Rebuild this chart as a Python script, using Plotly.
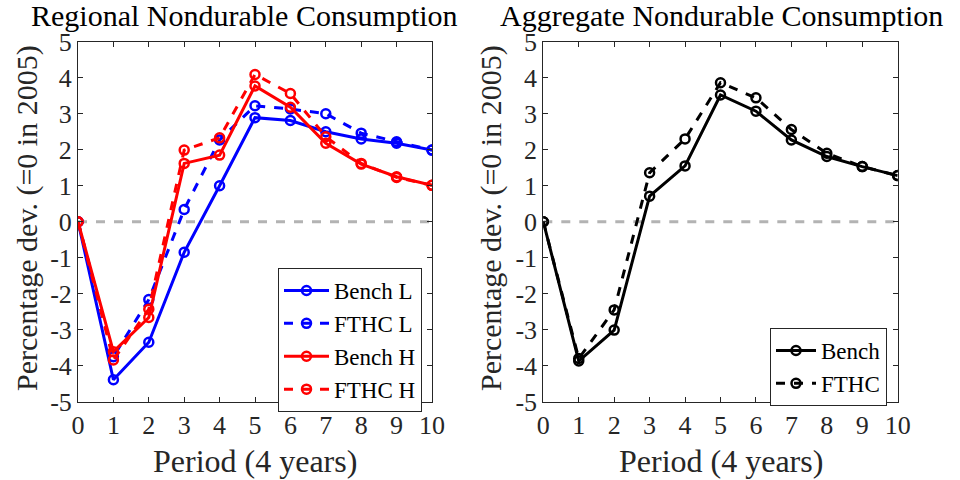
import plotly.graph_objects as go

periods = list(range(11))
bench_L = [0, -4.39, -3.35, -0.85, 1.00, 2.89, 2.81, 2.50, 2.30, 2.18, 1.99]
fthc_L = [0, -3.75, -2.16, 0.34, 2.27, 3.22, 3.13, 3.00, 2.46, 2.22, 1.99]
bench_H = [0, -3.61, -2.66, 1.62, 1.85, 3.77, 3.18, 2.18, 1.60, 1.25, 1.01]
fthc_H = [0, -3.84, -2.43, 1.99, 2.33, 4.09, 3.56, 2.36, 1.62, 1.23, 1.01]
bench_agg = [0, -3.87, -3.01, 0.71, 1.55, 3.52, 3.07, 2.27, 1.81, 1.53, 1.28]
fthc_agg = [0, -3.80, -2.45, 1.36, 2.30, 3.86, 3.44, 2.56, 1.90, 1.53, 1.28]

ytick_vals = [-5, -4, -3, -2, -1, 0, 1, 2, 3, 4, 5]
ytick_text = ["-5", "-4", "-3", "-2", "-1", "0", "1", "2", "3", "4", "5"]
xtick_vals = list(range(11))

FONT = "Liberation Serif"

fig = go.Figure()

def add(x, y, color, dash, name, xa, ya, legend):
    fig.add_trace(go.Scatter(
        x=x, y=y, mode="lines+markers", name=name,
        line=dict(color=color, width=3, dash=dash),
        marker=dict(symbol="circle-open", size=9, color=color, line=dict(width=2.5, color=color)),
        xaxis=xa, yaxis=ya, legend=legend,
    ))

# zero lines
for xa, ya in [("x", "y"), ("x2", "y2")]:
    fig.add_trace(go.Scatter(x=[0, 10], y=[0, 0], mode="lines",
                             line=dict(color="#b3b3b3", width=3, dash="dash"),
                             showlegend=False, hoverinfo="skip", xaxis=xa, yaxis=ya))

add(periods, bench_L, "#0000ff", "solid", "Bench L", "x", "y", "legend")
add(periods, fthc_L, "#0000ff", "dash", "FTHC L", "x", "y", "legend")
add(periods, bench_H, "#ff0000", "solid", "Bench H", "x", "y", "legend")
add(periods, fthc_H, "#ff0000", "dash", "FTHC H", "x", "y", "legend")
add(periods, bench_agg, "#000000", "solid", "Bench", "x2", "y2", "legend2")
add(periods, fthc_agg, "#000000", "dash", "FTHC", "x2", "y2", "legend2")

axis_common = dict(showline=True, linecolor="#262626", linewidth=1, mirror="ticks",
                   ticks="inside", ticklen=5, tickcolor="#262626", showgrid=False,
                   zeroline=False, automargin=False,
                   tickfont=dict(family=FONT, size=26, color="#262626"))

fig.update_layout(
    width=960, height=480,
    margin=dict(l=0, r=0, t=0, b=0),
    plot_bgcolor="white", paper_bgcolor="white",
    font=dict(family=FONT, color="#262626"),
    xaxis=dict(domain=[78/960, 432/960], range=[0, 10], tickvals=xtick_vals, **axis_common),
    yaxis=dict(domain=[78.3/480, 438.3/480], range=[-5, 5], tickvals=ytick_vals, ticktext=ytick_text, **axis_common),
    xaxis2=dict(domain=[543.3/960, 897.7/960], range=[0, 10], tickvals=xtick_vals, anchor="y2", **axis_common),
    yaxis2=dict(domain=[78.3/480, 438.3/480], range=[-5, 5], tickvals=ytick_vals, ticktext=ytick_text, anchor="x2", **axis_common),
    legend=dict(x=422/960, xanchor="right", y=(480-268)/480, yanchor="top",
                bordercolor="#262626", borderwidth=1, bgcolor="white",
                font=dict(family=FONT, size=23, color="#000"), tracegroupgap=0, itemwidth=45),
    legend2=dict(x=887/960, xanchor="right", y=(480-328)/480, yanchor="top",
                 bordercolor="#262626", borderwidth=1, bgcolor="white",
                 font=dict(family=FONT, size=23, color="#000"), tracegroupgap=0, itemwidth=40),
    showlegend=True,
)

titles = [("Regional Nondurable Consumption", 244), ("Aggregate Nondurable Consumption", 721)]
for t, xc in titles:
    fig.add_annotation(xref="paper", yref="paper", showarrow=False, x=xc/960, y=1 - 15/480,
                       xanchor="center", yanchor="middle", text=t,
                       font=dict(family=FONT, size=30, color="#000"))
for xc in [255, 720.5]:
    fig.add_annotation(xref="paper", yref="paper", showarrow=False, x=xc/960, y=1 - 461/480,
                       xanchor="center", yanchor="middle", text="Period (4 years)",
                       font=dict(family=FONT, size=32, color="#262626"))
for xc in [27, 491]:
    fig.add_annotation(xref="paper", yref="paper", showarrow=False, x=xc/960, y=1 - 218/480,
                       text="Percentage dev. (=0 in 2005)", textangle=-90,
                       xanchor="center", yanchor="middle",
                       font=dict(family=FONT, size=30, color="#262626"))

fig.write_html("out.html", config={"displayModeBar": False},
               post_script="document.body.style.margin='0';document.body.style.overflow='hidden';")
